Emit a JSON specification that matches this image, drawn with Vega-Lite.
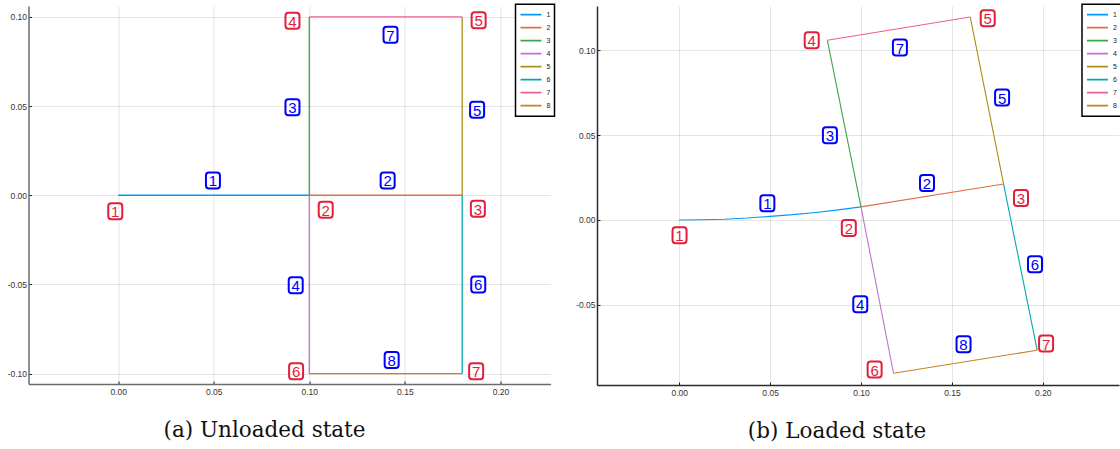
{
  "$schema": "https://vega.github.io/schema/vega-lite/v6.json",
  "background": "white",
  "padding": {"left": 6.5, "top": 3, "right": 0, "bottom": 0},
  "bounds": "flush",
  "spacing": 46.5,
  "resolve": {"scale": {"color": "independent", "x": "independent", "y": "independent"}, "legend": {"color": "independent"}},
  "config": {
    "view": {"stroke": null},
    "axis": {
      "title": null,
      "domainWidth": 1.5,
      "gridColor": "#000000",
      "gridOpacity": 0.1,
      "gridWidth": 1,
      "labelFont": "Liberation Sans",
      "labelFontSize": 8.5,
      "labelColor": "#333333",
      "tickColor": "#222222",
      "tickSize": -3,
      "tickWidth": 1
    },
    "axisX": {"labelPadding": 6},
    "axisY": {"labelPadding": 5},
    "legend": {
      "orient": "none",
      "title": null,
      "padding": 4,
      "strokeColor": "#000000",
      "strokeWidth": 1.5,
      "fillColor": "#ffffff",
      "cornerRadius": 0,
      "symbolType": "stroke",
      "symbolSize": 441,
      "symbolStrokeWidth": 1.6,
      "labelFont": "Liberation Sans",
      "labelFontSize": 7,
      "labelColor": "#222222",
      "labelOffset": 4,
      "clipHeight": 12.6,
      "rowPadding": 0
    }
  },
  "datasets": {
    "linesA": [
      {"e": "1", "o": 0, "x": 0, "y": 0}, {"e": "1", "o": 1, "x": 0.1, "y": 0},
      {"e": "2", "o": 0, "x": 0.1, "y": 0}, {"e": "2", "o": 1, "x": 0.18, "y": 0},
      {"e": "3", "o": 0, "x": 0.1, "y": 0}, {"e": "3", "o": 1, "x": 0.1, "y": 0.1},
      {"e": "4", "o": 0, "x": 0.1, "y": 0}, {"e": "4", "o": 1, "x": 0.1, "y": -0.1},
      {"e": "5", "o": 0, "x": 0.18, "y": 0}, {"e": "5", "o": 1, "x": 0.18, "y": 0.1},
      {"e": "6", "o": 0, "x": 0.18, "y": 0}, {"e": "6", "o": 1, "x": 0.18, "y": -0.1},
      {"e": "7", "o": 0, "x": 0.1, "y": 0.1}, {"e": "7", "o": 1, "x": 0.18, "y": 0.1},
      {"e": "8", "o": 0, "x": 0.1, "y": -0.1}, {"e": "8", "o": 1, "x": 0.18, "y": -0.1}
    ],
    "linesB": [
      {"e": "1", "o": 0, "x": 0, "y": 0},
      {"e": "1", "o": 1, "x": 0.0125, "y": 0.0001},
      {"e": "1", "o": 2, "x": 0.025, "y": 0.0004},
      {"e": "1", "o": 3, "x": 0.0375, "y": 0.0011},
      {"e": "1", "o": 4, "x": 0.05, "y": 0.0021},
      {"e": "1", "o": 5, "x": 0.0625, "y": 0.0031},
      {"e": "1", "o": 6, "x": 0.075, "y": 0.0044},
      {"e": "1", "o": 7, "x": 0.0875, "y": 0.0059},
      {"e": "1", "o": 8, "x": 0.1, "y": 0.0077},
      {"e": "2", "o": 0, "x": 0.1, "y": 0.0077}, {"e": "2", "o": 1, "x": 0.1784, "y": 0.0212},
      {"e": "3", "o": 0, "x": 0.1, "y": 0.0077}, {"e": "3", "o": 1, "x": 0.0815, "y": 0.1059},
      {"e": "4", "o": 0, "x": 0.1, "y": 0.0077}, {"e": "4", "o": 1, "x": 0.1179, "y": -0.0904},
      {"e": "5", "o": 0, "x": 0.1784, "y": 0.0212}, {"e": "5", "o": 1, "x": 0.1601, "y": 0.1196},
      {"e": "6", "o": 0, "x": 0.1784, "y": 0.0212}, {"e": "6", "o": 1, "x": 0.1969, "y": -0.0768},
      {"e": "7", "o": 0, "x": 0.0815, "y": 0.1059}, {"e": "7", "o": 1, "x": 0.1601, "y": 0.1196},
      {"e": "8", "o": 0, "x": 0.1179, "y": -0.0904}, {"e": "8", "o": 1, "x": 0.1969, "y": -0.0768}
    ],
    "labA": [
      {"k": "n", "t": "1", "x": -0.0015, "y": -0.009},
      {"k": "n", "t": "2", "x": 0.1086, "y": -0.0081},
      {"k": "n", "t": "3", "x": 0.1882, "y": -0.0075},
      {"k": "n", "t": "4", "x": 0.0912, "y": 0.0979},
      {"k": "n", "t": "5", "x": 0.1886, "y": 0.0981},
      {"k": "n", "t": "6", "x": 0.0931, "y": -0.0987},
      {"k": "n", "t": "7", "x": 0.1873, "y": -0.0987},
      {"k": "e", "t": "1", "x": 0.0496, "y": 0.0083},
      {"k": "e", "t": "2", "x": 0.141, "y": 0.0083},
      {"k": "e", "t": "3", "x": 0.0912, "y": 0.0494},
      {"k": "e", "t": "4", "x": 0.0929, "y": -0.0504},
      {"k": "e", "t": "5", "x": 0.1878, "y": 0.0479},
      {"k": "e", "t": "6", "x": 0.1884, "y": -0.05},
      {"k": "e", "t": "7", "x": 0.1425, "y": 0.09},
      {"k": "e", "t": "8", "x": 0.1431, "y": -0.0923}
    ],
    "labB": [
      {"k": "n", "t": "1", "x": 0.0002, "y": -0.009},
      {"k": "n", "t": "2", "x": 0.0933, "y": -0.0047},
      {"k": "n", "t": "3", "x": 0.188, "y": 0.013},
      {"k": "n", "t": "4", "x": 0.0729, "y": 0.1059},
      {"k": "n", "t": "5", "x": 0.1697, "y": 0.1189},
      {"k": "n", "t": "6", "x": 0.1075, "y": -0.0882},
      {"k": "n", "t": "7", "x": 0.2018, "y": -0.0729},
      {"k": "e", "t": "1", "x": 0.0485, "y": 0.0098},
      {"k": "e", "t": "2", "x": 0.1363, "y": 0.0218},
      {"k": "e", "t": "3", "x": 0.0829, "y": 0.0499},
      {"k": "e", "t": "4", "x": 0.0996, "y": -0.0497},
      {"k": "e", "t": "5", "x": 0.1776, "y": 0.0721},
      {"k": "e", "t": "6", "x": 0.1957, "y": -0.0261},
      {"k": "e", "t": "7", "x": 0.1214, "y": 0.1016},
      {"k": "e", "t": "8", "x": 0.1564, "y": -0.0733}
    ]
  },
  "hconcat": [
    {
      "width": 522,
      "height": 378,
      "title": {"text": "(a) Unloaded state", "orient": "bottom", "anchor": "middle", "font": "DejaVu Serif", "fontSize": 21.5, "fontWeight": "normal", "color": "#111111", "dx": -25, "offset": 24},
      "encoding": {
        "x": {"field": "x", "type": "quantitative", "scale": {"domain": [-0.0469, 0.2262], "nice": false, "zero": false}, "axis": {"values": [0, 0.05, 0.1, 0.15, 0.2], "format": ".2f", "domainColor": "#6b6b6b"}},
        "y": {"field": "y", "type": "quantitative", "scale": {"domain": [-0.1058, 0.1061], "nice": false, "zero": false}, "axis": {"values": [-0.1, -0.05, 0, 0.05, 0.1], "labelExpr": "(datum.value < 0 ? '-' : '') + format(abs(datum.value), '.2f')", "domainColor": "#6b6b6b"}}
      },
      "layer": [
        {
          "data": {"name": "linesA"},
          "mark": {"type": "line", "strokeWidth": 1.3},
          "encoding": {
            "color": {"field": "e", "type": "nominal", "scale": {"domain": ["1", "2", "3", "4", "5", "6", "7", "8"], "range": ["#009AFA", "#E36F47", "#3EA44E", "#C371D2", "#AC8E18", "#00A9AD", "#ED5E93", "#C68225"]}, "legend": {"legendX": 487, "legendY": -1.7}},
            "detail": {"field": "e"},
            "order": {"field": "o"}
          }
        },
        {
          "data": {"name": "labA"},
          "transform": [{"filter": "datum.k == 'n'"}],
          "mark": {"type": "point", "shape": "M -0.5,-1 L 0.5,-1 Q 0.875,-1 0.875,-0.625 L 0.875,0.625 Q 0.875,1 0.5,1 L -0.5,1 Q -0.875,1 -0.875,0.625 L -0.875,-0.625 Q -0.875,-1 -0.5,-1 Z", "size": 256, "filled": false, "stroke": "#E31E3C", "strokeWidth": 2, "opacity": 1}
        },
        {
          "data": {"name": "labA"},
          "transform": [{"filter": "datum.k == 'n'"}],
          "mark": {"type": "text", "font": "Liberation Sans", "fontSize": 15, "color": "#E31E3C", "align": "center", "baseline": "middle", "dy": 1},
          "encoding": {"text": {"field": "t"}}
        },
        {
          "data": {"name": "labA"},
          "transform": [{"filter": "datum.k == 'e'"}],
          "mark": {"type": "point", "shape": "M -0.5,-1 L 0.5,-1 Q 0.875,-1 0.875,-0.625 L 0.875,0.625 Q 0.875,1 0.5,1 L -0.5,1 Q -0.875,1 -0.875,0.625 L -0.875,-0.625 Q -0.875,-1 -0.5,-1 Z", "size": 256, "filled": false, "stroke": "#0000FF", "strokeWidth": 2, "opacity": 1}
        },
        {
          "data": {"name": "labA"},
          "transform": [{"filter": "datum.k == 'e'"}],
          "mark": {"type": "text", "font": "Liberation Sans", "fontSize": 15, "color": "#0000FF", "align": "center", "baseline": "middle", "dy": 1},
          "encoding": {"text": {"field": "t"}}
        }
      ]
    },
    {
      "width": 522,
      "height": 379,
      "title": {"text": "(b) Loaded state", "orient": "bottom", "anchor": "middle", "font": "DejaVu Serif", "fontSize": 21.5, "fontWeight": "normal", "color": "#111111", "dx": -21, "offset": 24},
      "encoding": {
        "x": {"field": "x", "type": "quantitative", "scale": {"domain": [-0.0452, 0.2419], "nice": false, "zero": false}, "axis": {"values": [0, 0.05, 0.1, 0.15, 0.2], "format": ".2f", "domainColor": "#2a2a2a"}},
        "y": {"field": "y", "type": "quantitative", "scale": {"domain": [-0.0973, 0.1261], "nice": false, "zero": false}, "axis": {"values": [-0.05, 0, 0.05, 0.1], "labelExpr": "(datum.value < 0 ? '-' : '') + format(abs(datum.value), '.2f')", "domainColor": "#2a2a2a"}}
      },
      "layer": [
        {
          "data": {"name": "linesB"},
          "mark": {"type": "line", "strokeWidth": 1.1},
          "encoding": {
            "color": {"field": "e", "type": "nominal", "scale": {"domain": ["1", "2", "3", "4", "5", "6", "7", "8"], "range": ["#009AFA", "#E36F47", "#3EA44E", "#C371D2", "#AC8E18", "#00A9AD", "#ED5E93", "#C68225"]}, "legend": {"legendX": 485, "legendY": -1.7}},
            "detail": {"field": "e"},
            "order": {"field": "o"}
          }
        },
        {
          "data": {"name": "labB"},
          "transform": [{"filter": "datum.k == 'n'"}],
          "mark": {"type": "point", "shape": "M -0.5,-1 L 0.5,-1 Q 0.875,-1 0.875,-0.625 L 0.875,0.625 Q 0.875,1 0.5,1 L -0.5,1 Q -0.875,1 -0.875,0.625 L -0.875,-0.625 Q -0.875,-1 -0.5,-1 Z", "size": 256, "filled": false, "stroke": "#E31E3C", "strokeWidth": 2, "opacity": 1}
        },
        {
          "data": {"name": "labB"},
          "transform": [{"filter": "datum.k == 'n'"}],
          "mark": {"type": "text", "font": "Liberation Sans", "fontSize": 15, "color": "#E31E3C", "align": "center", "baseline": "middle", "dy": 1},
          "encoding": {"text": {"field": "t"}}
        },
        {
          "data": {"name": "labB"},
          "transform": [{"filter": "datum.k == 'e'"}],
          "mark": {"type": "point", "shape": "M -0.5,-1 L 0.5,-1 Q 0.875,-1 0.875,-0.625 L 0.875,0.625 Q 0.875,1 0.5,1 L -0.5,1 Q -0.875,1 -0.875,0.625 L -0.875,-0.625 Q -0.875,-1 -0.5,-1 Z", "size": 256, "filled": false, "stroke": "#0000FF", "strokeWidth": 2, "opacity": 1}
        },
        {
          "data": {"name": "labB"},
          "transform": [{"filter": "datum.k == 'e'"}],
          "mark": {"type": "text", "font": "Liberation Sans", "fontSize": 15, "color": "#0000FF", "align": "center", "baseline": "middle", "dy": 1},
          "encoding": {"text": {"field": "t"}}
        }
      ]
    }
  ]
}
